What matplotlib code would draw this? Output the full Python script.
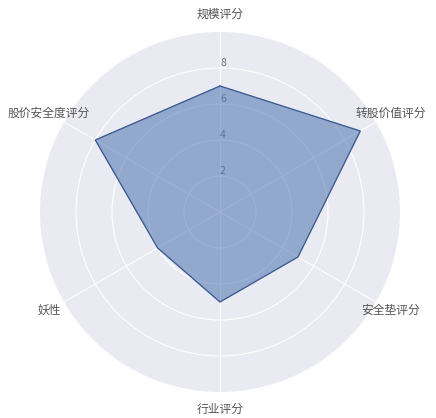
import numpy as np
import matplotlib.pyplot as plt
import seaborn as sns

sns.set_style("darkgrid")
plt.rcParams['font.family'] = ['Noto Sans CJK SC', 'DejaVu Sans']

labels = ['规模评分', '转股价值评分', '安全垫评分', '行业评分', '妖性', '股价安全度评分']
scores = [7, 9, 5, 5, 4, 8]

angles = np.linspace(0, 2 * np.pi, len(labels), endpoint=False)
vals = np.concatenate([scores, scores[:1]])
ang = np.concatenate([angles, angles[:1]])

fig = plt.figure(figsize=(4.36, 4.18), dpi=100)
ax = fig.add_axes([40 / 436, 26 / 418, 360 / 436, 360 / 418], polar=True)
ax.set_theta_offset(np.pi / 2)
ax.set_theta_direction(-1)

ax.fill(ang, vals, color='#4C72B0', alpha=0.55, zorder=2)
ax.plot(ang, vals, color='#3A5A8C', linewidth=0.8, zorder=3)

ax.set_ylim(0, 10)
ax.set_yticks([2, 4, 6, 8])
ax.set_yticklabels(['2', '4', '6', '8'], color='#777777', fontsize=7.5)
ax.set_rlabel_position(0)
ax.set_thetagrids(np.degrees(angles), labels, color='#555555', fontsize=8.5)
ax.tick_params(axis='x', pad=2)
ax.spines['polar'].set_visible(False)

fig.savefig('out.png', dpi=100)
